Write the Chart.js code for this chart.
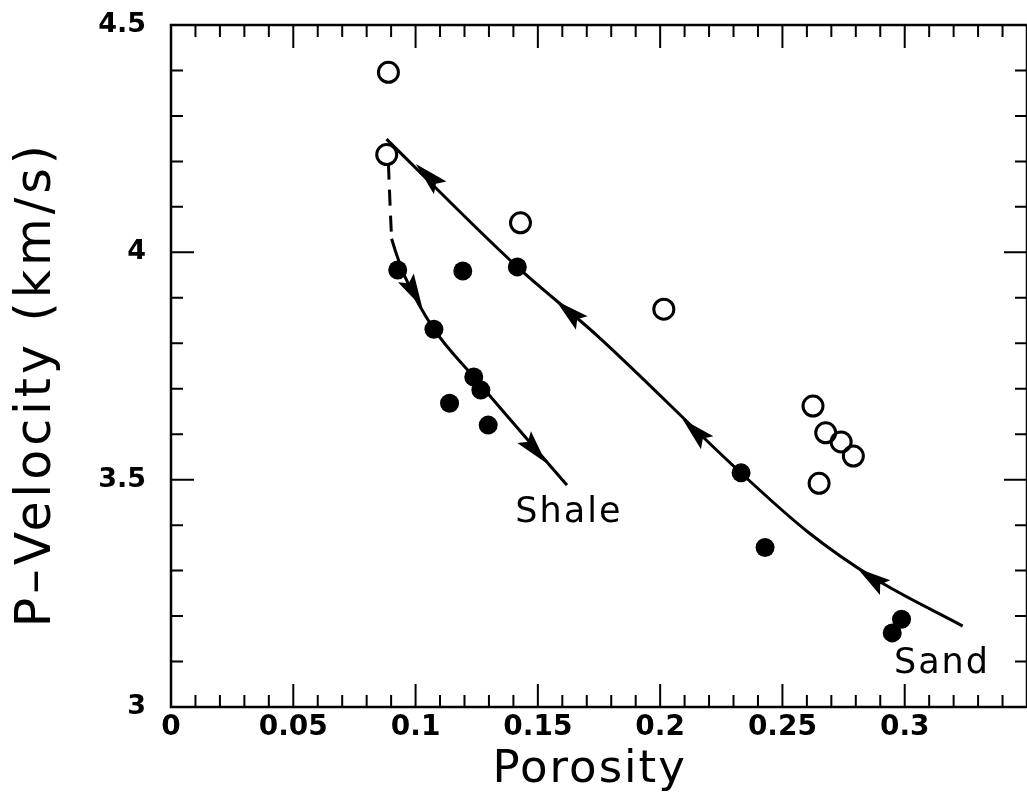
<!DOCTYPE html>
<html>
<head>
<meta charset="utf-8">
<title>P-Velocity vs Porosity</title>
<script src="https://cdn.jsdelivr.net/npm/chart.js@4.4.1/dist/chart.umd.min.js"></script>
<style>
    html, body { margin: 0; padding: 0; background: #fff; overflow: hidden; }
    #wrap { width: 1040px; height: 793px; }
</style>
</head>
<body>
<div id="wrap"><canvas id="velocityChart"></canvas></div>
<script>
// Values
const openPorosity = [0.0889, 0.0882, 0.1429, 0.2015, 0.2625, 0.2677, 0.2740, 0.2790, 0.2650];
const openVelocity = [4.396, 4.215, 4.065, 3.875, 3.662, 3.603, 3.583, 3.552, 3.492];

const filledPorosity = [0.0927, 0.1193, 0.1416, 0.1075, 0.1238, 0.1267, 0.1139, 0.1297, 0.2331, 0.2429, 0.2987, 0.2949];
const filledVelocity = [3.961, 3.959, 3.968, 3.831, 3.726, 3.697, 3.668, 3.620, 3.515, 3.351, 3.193, 3.163];

// Trend curves
const sandPorosity = [0.0881, 0.1416, 0.1740, 0.2330, 0.2604, 0.2875, 0.3237];
const sandVelocity = [4.249, 3.968, 3.818, 3.515, 3.385, 3.283, 3.178];

const shaleDashPorosity = [0.0889, 0.0896, 0.0902];
const shaleDashVelocity = [4.195, 4.100, 4.030];

const shalePorosity = [0.0902, 0.0923, 0.0957, 0.1075, 0.1238, 0.1619];
const shaleVelocity = [4.030, 3.994, 3.946, 3.831, 3.726, 3.488];

// Arrow heads along the curves (centre of each head)
const sandArrowPorosity = [0.1051, 0.1627, 0.2142, 0.2863];
const sandArrowVelocity = [4.168, 3.869, 3.607, 3.284];
const shaleArrowPorosity = [0.0994, 0.1489];
const shaleArrowVelocity = [3.911, 3.565];

// Curve labels
const curveLabels = ['Shale', 'Sand'];
const curveLabelPorosity = [0.1408, 0.2956];
const curveLabelVelocity = [3.407, 3.075];

// Tick labels
const xTickLabels = ['0', '0.05', '0.1', '0.15', '0.2', '0.25', '0.3'];
const yTickLabels = ['3', '3.5', '4', '4.5'];

const xTitle = 'Porosity';
const yTitle = 'P\u2013Velocity (km/s)';

function toPoints(xs, ys) {
    return xs.map((x, i) => ({ x: x, y: ys[i] }));
}

// Frame with inward ticks on all four sides
const framePlugin = {
    id: 'frame',
    afterDraw(chart) {
        const ctx = chart.ctx;
        const a = chart.chartArea;
        const xs = chart.scales.x;
        const ys = chart.scales.y;
        ctx.save();
        ctx.strokeStyle = '#000';
        ctx.lineWidth = 2;
        xs.ticks.forEach(t => {
            const px = xs.getPixelForValue(t.value);
            const len = t.label !== '' ? 23 : 12;
            ctx.beginPath();
            ctx.moveTo(px, a.bottom); ctx.lineTo(px, a.bottom - len);
            ctx.moveTo(px, a.top); ctx.lineTo(px, a.top + len);
            ctx.stroke();
        });
        ys.ticks.forEach(t => {
            const py = ys.getPixelForValue(t.value);
            const len = t.label !== '' ? 23 : 12;
            ctx.beginPath();
            ctx.moveTo(a.left, py); ctx.lineTo(a.left + len, py);
            ctx.moveTo(a.right, py); ctx.lineTo(a.right - len, py);
            ctx.stroke();
        });
        ctx.lineWidth = 2.5;
        ctx.strokeRect(a.left, a.top, a.right - a.left, a.bottom - a.top);
        ctx.restore();
    }
};

// Arrow heads: direction follows the curve segment under the arrow
function segmentAngle(chart, xsData, ysData, px) {
    const xs = chart.scales.x, ys = chart.scales.y;
    let i = 0;
    while (i < xsData.length - 2 && xsData[i + 1] < px) i++;
    const x1 = xs.getPixelForValue(xsData[i]), y1 = ys.getPixelForValue(ysData[i]);
    const x2 = xs.getPixelForValue(xsData[i + 1]), y2 = ys.getPixelForValue(ysData[i + 1]);
    return Math.atan2(y2 - y1, x2 - x1);
}

function drawHead(ctx, cx, cy, ang) {
    const len = 34, half = 9;
    ctx.save();
    ctx.translate(cx, cy);
    ctx.rotate(ang);
    ctx.beginPath();
    ctx.moveTo(len / 2, 0);
    ctx.lineTo(-len / 2, half);
    ctx.lineTo(-len / 2 + 6, 0);
    ctx.lineTo(-len / 2, -half);
    ctx.closePath();
    ctx.fill();
    ctx.restore();
}

const arrowPlugin = {
    id: 'arrows',
    afterDatasetsDraw(chart) {
        const ctx = chart.ctx;
        const xs = chart.scales.x, ys = chart.scales.y;
        ctx.save();
        ctx.fillStyle = '#000';
        // sand arrows point back toward low porosity
        sandArrowPorosity.forEach((p, i) => {
            const ang = segmentAngle(chart, sandPorosity, sandVelocity, p) + Math.PI;
            drawHead(ctx, xs.getPixelForValue(p), ys.getPixelForValue(sandArrowVelocity[i]), ang);
        });
        // shale arrows point toward high porosity
        shaleArrowPorosity.forEach((p, i) => {
            const ang = segmentAngle(chart, shalePorosity, shaleVelocity, p);
            drawHead(ctx, xs.getPixelForValue(p), ys.getPixelForValue(shaleArrowVelocity[i]), ang);
        });
        ctx.restore();
    }
};

// Axis titles and curve labels
const textPlugin = {
    id: 'texts',
    afterDraw(chart) {
        const ctx = chart.ctx;
        const xs = chart.scales.x, ys = chart.scales.y;
        ctx.save();
        ctx.fillStyle = '#000';
        ctx.textBaseline = 'alphabetic';

        ctx.font = '35px "DejaVu Sans"';
        ctx.letterSpacing = '2px';
        ctx.textAlign = 'left';
        curveLabels.forEach((txt, i) => {
            ctx.fillText(txt, xs.getPixelForValue(curveLabelPorosity[i]), ys.getPixelForValue(curveLabelVelocity[i]));
        });

        ctx.font = '45px "DejaVu Sans"';
        ctx.letterSpacing = '2px';
        ctx.textAlign = 'center';
        ctx.fillText(xTitle, xs.getPixelForValue(0.1712), chart.chartArea.bottom + 75);

        ctx.font = '49px "DejaVu Sans"';
        ctx.letterSpacing = '4px';
        ctx.translate(50, ys.getPixelForValue(3.71));
        ctx.rotate(-Math.PI / 2);
        ctx.fillText(yTitle, 0, 0);
        ctx.restore();
    }
};

const ctx = document.getElementById('velocityChart').getContext('2d');

new Chart(ctx, {
    type: 'scatter',
    data: {
        datasets: [
            {
                label: 'Sand trend',
                data: toPoints(sandPorosity, sandVelocity),
                showLine: true,
                borderColor: '#000',
                borderWidth: 3,
                pointRadius: 0,
                cubicInterpolationMode: 'monotone',
                order: 1
            },
            {
                label: 'Shale trend',
                data: toPoints(shalePorosity, shaleVelocity),
                showLine: true,
                borderColor: '#000',
                borderWidth: 3,
                pointRadius: 0,
                cubicInterpolationMode: 'monotone',
                order: 1
            },
            {
                label: 'Shale trend (dashed)',
                data: toPoints(shaleDashPorosity, shaleDashVelocity),
                showLine: true,
                borderColor: '#000',
                borderWidth: 3,
                borderDash: [16, 10],
                pointRadius: 0,
                tension: 0,
                order: 1
            },
            {
                label: 'Open',
                data: toPoints(openPorosity, openVelocity),
                pointRadius: 10,
                pointBorderWidth: 3,
                pointBorderColor: '#000',
                pointBackgroundColor: 'rgba(0,0,0,0)',
                order: 2
            },
            {
                label: 'Filled',
                data: toPoints(filledPorosity, filledVelocity),
                pointRadius: 9.5,
                pointBorderWidth: 0,
                pointBackgroundColor: '#000',
                order: 2
            }
        ]
    },
    options: {
        responsive: true,
        maintainAspectRatio: false,
        animation: false,
        events: [],
        layout: { padding: { top: 25, right: 6, bottom: 0, left: 0 } },
        plugins: {
            legend: { display: false },
            tooltip: { enabled: false }
        },
        scales: {
            x: {
                type: 'linear',
                position: 'bottom',
                min: 0,
                max: 0.35,
                grid: { display: false, drawTicks: false },
                border: { display: false },
                afterFit: scale => { scale.height = 86; },
                ticks: {
                    stepSize: 0.01,
                    autoSkip: false,
                    maxRotation: 0,
                    minRotation: 0,
                    padding: 4,
                    color: '#000',
                    font: { family: '"DejaVu Sans"', size: 28, weight: 'bold' },
                    callback: value => {
                        const s = String(+value.toFixed(2));
                        return xTickLabels.includes(s) ? s : '';
                    }
                }
            },
            y: {
                type: 'linear',
                min: 3,
                max: 4.5,
                grid: { display: false, drawTicks: false },
                border: { display: false },
                afterFit: scale => {
                    scale.width = 171;
                    // the label padding would otherwise push the plot top down
                    scale.paddingTop = 0;
                    scale.paddingBottom = 0;
                },
                ticks: {
                    stepSize: 0.1,
                    autoSkip: false,
                    padding: 25,
                    color: '#000',
                    font: { family: '"DejaVu Sans"', size: 27, weight: 'bold' },
                    callback: value => {
                        const s = String(+value.toFixed(1));
                        return yTickLabels.includes(s) ? s : '';
                    }
                }
            }
        }
    },
    plugins: [framePlugin, arrowPlugin, textPlugin]
});
</script>
</body>
</html>
